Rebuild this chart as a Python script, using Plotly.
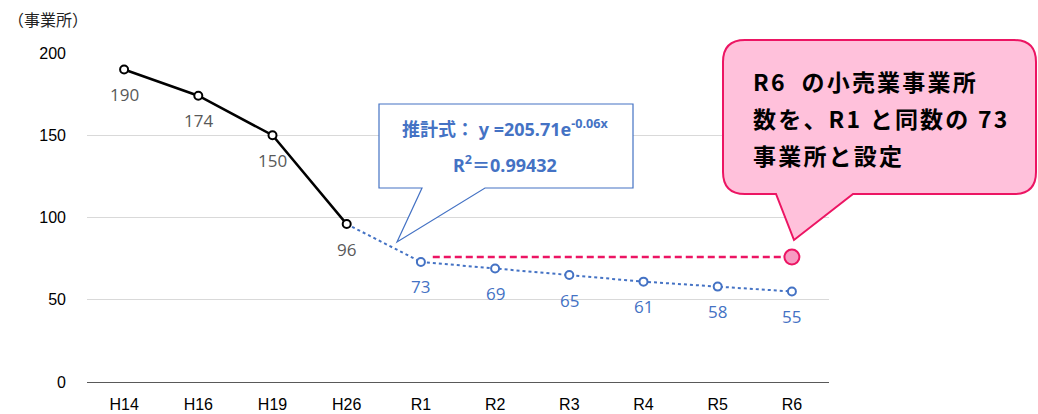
import plotly.graph_objects as go

# ---- data ----
categories = ["H14", "H16", "H19", "H26", "R1", "R2", "R3", "R4", "R5", "R6"]
actual_values = [190, 174, 150, 96]          # H14..H26 (black)
estimate_values = [73, 69, 65, 61, 58, 55]   # R1..R6 (blue)
target_value = 76                             # pink dashed level (drawn ~R1 level)
y_ticks = [0, 50, 100, 150, 200]

W, H = 1038, 414
L, R, T, B = 87, 829, 53, 382

def px(x):
    return (x - L) / (R - L)

def py(y):
    return (B - y) / (B - T)

idx = list(range(len(categories)))
n_act = len(actual_values)
act_x = idx[:n_act]
est_x = idx[n_act:]

BLUE = "#4472C4"
PINK = "#EC1563"
GRAY = "#595959"
LABEL_FONT = "Open Sans, Noto Sans, sans-serif"

fig = go.Figure()

# connecting dotted segment H26 -> R1
fig.add_trace(go.Scatter(
    x=[act_x[-1], est_x[0]], y=[actual_values[-1], estimate_values[0]],
    mode="lines", line=dict(color=BLUE, width=2, dash="dot"),
    hoverinfo="skip", showlegend=False))

# pink dashed target line
fig.add_trace(go.Scatter(
    x=[est_x[0] + 0.16, est_x[-1]], y=[target_value, target_value],
    mode="lines", line=dict(color=PINK, width=2.5, dash="7px,4px"),
    showlegend=False))

# black actual series
fig.add_trace(go.Scatter(
    x=act_x, y=actual_values, mode="lines+markers",
    line=dict(color="black", width=2.5),
    marker=dict(symbol="circle", size=8, color="white",
                line=dict(color="black", width=2)),
    showlegend=False))

# blue estimate series
fig.add_trace(go.Scatter(
    x=est_x, y=estimate_values, mode="lines+markers",
    line=dict(color=BLUE, width=2, dash="dot"),
    marker=dict(symbol="circle", size=8, color="white",
                line=dict(color=BLUE, width=2)),
    showlegend=False))

# pink marker at R6
fig.add_trace(go.Scatter(
    x=[est_x[-1]], y=[target_value], mode="markers",
    marker=dict(symbol="circle", size=15, color="#F79BC2",
                line=dict(color=PINK, width=2)),
    showlegend=False))

annotations = []
for xi, v in zip(act_x, actual_values):
    annotations.append(dict(x=xi, y=v, xref="x", yref="y", text=str(v),
                            showarrow=False, yshift=-25, yanchor="middle",
                            font=dict(family=LABEL_FONT, size=17, color=GRAY)))
for xi, v in zip(est_x, estimate_values):
    annotations.append(dict(x=xi, y=v, xref="x", yref="y", text=str(v),
                            showarrow=False, yshift=-25, yanchor="middle",
                            font=dict(family=LABEL_FONT, size=17, color=BLUE)))

# axis unit title
annotations.append(dict(x=px(6), y=py(19), xref="paper", yref="paper",
                        text="（事業所）", showarrow=False, xanchor="left", yanchor="middle",
                        font=dict(family="Noto Sans CJK JP", size=16, color="#222222")))

# blue callout text
BFONT = dict(family="Noto Sans, Noto Sans CJK JP", size=18, color=BLUE, weight="bold")
annotations.append(dict(x=px(505), y=py(128), xref="paper", yref="paper",
                        text="推計式： y =205.71e<sup>-0.06x</sup>", showarrow=False,
                        xanchor="center", yanchor="middle", font=BFONT))
annotations.append(dict(x=px(505), y=py(164), xref="paper", yref="paper",
                        text="R<sup>2</sup>＝0.99432", showarrow=False,
                        xanchor="center", yanchor="middle", font=BFONT))

# pink callout text
pink_lines = ["R6  の小売業事業所", "数を、R1 と同数の 73", "事業所と設定"]
for i, t in enumerate(pink_lines):
    annotations.append(dict(x=px(751), y=py(81 + 37 * i), xref="paper", yref="paper",
                            text='<span style="letter-spacing:2.2px">' + t + '</span>',
                            showarrow=False, xanchor="left", yanchor="middle",
                            font=dict(family="Noto Sans CJK JP", size=23, color="black", weight="bold")))

def path_from(points, close=True):
    s = "M {} {}".format(px(points[0][0]), py(points[0][1]))
    for p in points[1:]:
        s += " L {} {}".format(px(p[0]), py(p[1]))
    return s + (" Z" if close else "")

# blue callout shape
blue_pts = [(379, 104), (633, 104), (633, 188), (485, 188), (397, 242), (422, 188), (379, 188)]
shapes = [dict(type="path", xref="paper", yref="paper", path=path_from(blue_pts),
               fillcolor="white", line=dict(color=BLUE, width=1.2), layer="above")]

# pink rounded callout
l, t, r, b, rad = 723, 40, 1036, 194, 22
def P(x, y):
    return "{} {}".format(px(x), py(y))
pink_path = ("M " + P(l + rad, t) + " L " + P(r - rad, t) + " Q " + P(r, t) + " " + P(r, t + rad) +
             " L " + P(r, b - rad) + " Q " + P(r, b) + " " + P(r - rad, b) +
             " L " + P(853, b) + " L " + P(794, 240) + " L " + P(776, b) +
             " L " + P(l + rad, b) + " Q " + P(l, b) + " " + P(l, b - rad) +
             " L " + P(l, t + rad) + " Q " + P(l, t) + " " + P(l + rad, t) + " Z")
shapes.append(dict(type="path", xref="paper", yref="paper", path=pink_path,
                   fillcolor="#FFC1DB", line=dict(color=PINK, width=2), layer="above"))

fig.update_layout(
    width=W, height=H,
    margin=dict(l=L, r=W - R, t=T, b=H - B),
    paper_bgcolor="white", plot_bgcolor="white",
    showlegend=False,
    annotations=annotations,
    shapes=shapes,
    xaxis=dict(range=[-0.5, len(categories) - 0.5], tickvals=idx, ticktext=categories,
               showgrid=False, zeroline=False, showline=True, linecolor="#595959", linewidth=1.2,
               ticks="", ticklabelstandoff=8, automargin=False,
               tickfont=dict(family="Liberation Sans, Arial", size=16, color="black")),
    yaxis=dict(range=[0, 200], tickvals=y_ticks, showgrid=True, gridcolor="#D9D9D9", gridwidth=1,
               zeroline=False, showline=False, ticks="", ticklabelstandoff=20, automargin=False,
               tickfont=dict(family="Liberation Sans, Arial", size=16, color="black")),
)

fig.write_html("out.html")
